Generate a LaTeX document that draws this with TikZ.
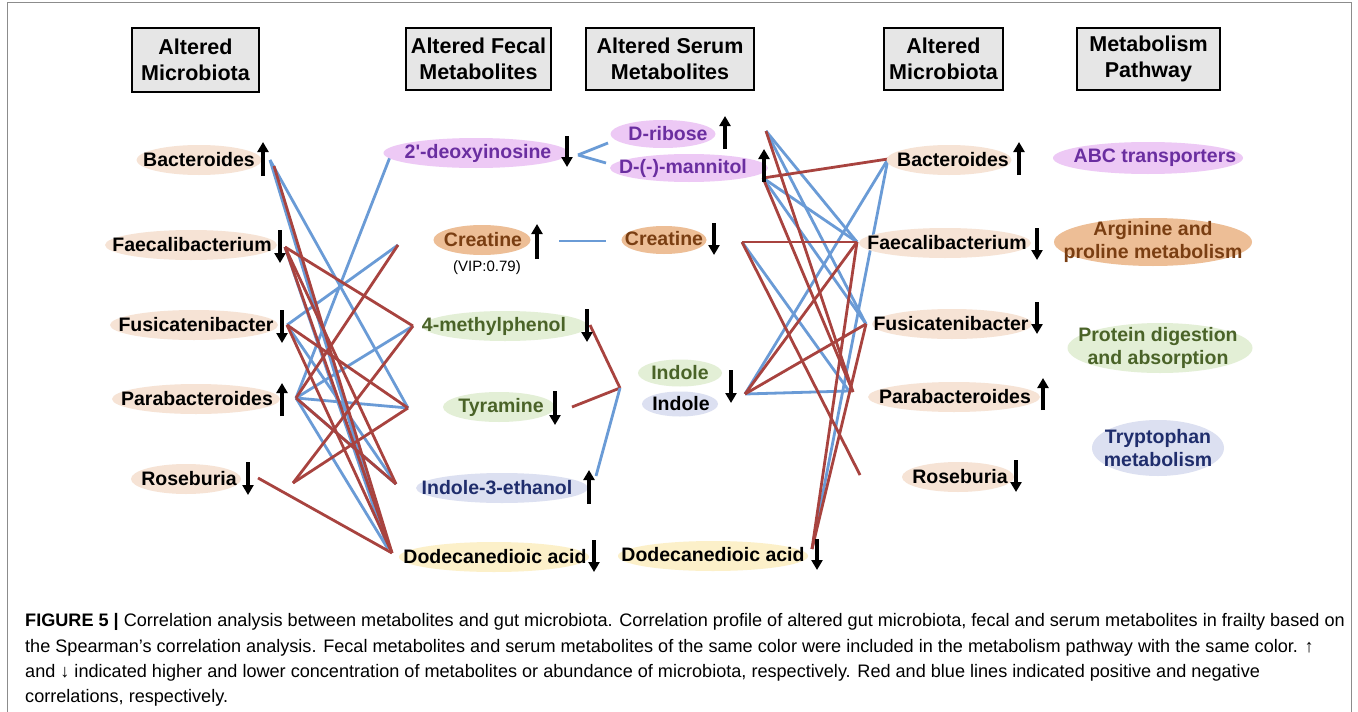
\documentclass[tikz,border=0pt]{standalone}
\usepackage{fontspec}
\setmainfont{Liberation Sans}
\newfontfamily\lsplain{Liberation Sans}
\usetikzlibrary{shapes.geometric,arrows.meta}
\definecolor{redl}{HTML}{A8433F}
\definecolor{bluel}{HTML}{6A9BD6}
\definecolor{peach}{HTML}{F6E3D5}
\definecolor{purf}{HTML}{EDC9F5}
\definecolor{purt}{HTML}{6A2EA0}
\definecolor{tanf}{HTML}{EDBE96}
\definecolor{brt}{HTML}{7A3E12}
\definecolor{grf}{HTML}{E3EFD6}
\definecolor{grt}{HTML}{4A6328}
\definecolor{lavf}{HTML}{DCE0F1}
\definecolor{navt}{HTML}{1F2D6C}
\definecolor{yelf}{HTML}{FCF0C9}
\definecolor{hdrf}{HTML}{E6E6E6}
\tikzset{
  x=1pt,y=-1pt,
  ell/.style={ellipse,inner sep=0pt,draw=none},
  lbl/.style={inner sep=0pt,font=\fontsize{19.5}{22}\selectfont\bfseries},
  hdr/.style={draw=black,line width=1.1pt,fill=hdrf,inner sep=0pt,align=center,font=\fontsize{21.5}{26}\selectfont\bfseries},
  rl/.style={draw=redl,line width=2.8pt},
  bl/.style={draw=bluel,line width=2.8pt},
  uarr/.style={line width=3.2pt,-{Triangle[length=10pt,width=11pt]}},
  captxt/.style={anchor=base west,inner sep=0pt,font=\fontsize{18.1}{20}\selectfont}
}
\begin{document}
\begin{tikzpicture}
\useasboundingbox (0,0) rectangle (1358,712);
\fill[white] (0,0) rectangle (1358,712);
\draw[black!45,line width=0.8pt] (7,714) -- (7,2) -- (1351,2) -- (1351,714);

% headers
\node[hdr,minimum width=127,minimum height=64] (h1) at (195.5,60) {Altered\\Microbiota};
\node[hdr,minimum width=145,minimum height=62] (h2) at (478.5,59) {Altered Fecal\\Metabolites};
\node[hdr,minimum width=168,minimum height=62] (h3) at (670,59) {Altered Serum\\Metabolites};
\node[hdr,minimum width=119,minimum height=62] (h4) at (943.5,59) {Altered\\Microbiota};
\node[hdr,minimum width=143,minimum height=62] (h5) at (1148.5,59) {Metabolism\\Pathway};

% ---------- lines left ----------
\coordinate (lB) at (270,160); \coordinate (lBr) at (274,166);
\coordinate (lF) at (285,247); \coordinate (lFu) at (287,325);
\coordinate (lP) at (296,398); \coordinate (lX) at (293,483);
\coordinate (lR) at (258,478);
\coordinate (fD2) at (390,157); \coordinate (fCr) at (398,245);
\coordinate (fM) at (413,326); \coordinate (fT) at (408,408);
\coordinate (fI3) at (396,484); \coordinate (fDd) at (392,553);
\coordinate (fDdb) at (388,549);

\draw[bl] (lB) -- (fDdb); \draw[bl] (lB) -- (fT); \draw[bl] (fD2) -- (lP);
\draw[bl] (fCr) -- (lFu); \draw[bl] (fM) -- (lP); \draw[bl] (lP) -- (fT);
\draw[bl] (lP) -- (fDdb); \draw[bl] (lP) -- (fI3); \draw[bl] (lF) -- (fDdb);
\draw[bl] (lFu) -- (fI3);
\draw[rl] (lBr) -- (fDd); \draw[rl] (lF) -- (fM); \draw[rl] (lF) -- (fI3);
\draw[rl] (lF) -- (fDd); \draw[rl] (lFu) -- (fT); \draw[rl] (lFu) -- (fDd);
\draw[rl] (lP) -- (fI3); \draw[rl] (fCr) -- (lP); \draw[rl] (lX) -- (fT);
\draw[rl] (lX) -- (fM); \draw[rl] (lR) -- (fDd);

% ---------- lines middle ----------
\coordinate (fD2r) at (578,155); \coordinate (sDr1) at (608,143); \coordinate (sDm1) at (606,163);
\coordinate (fCrr) at (559,241); \coordinate (sCr1) at (606,241);
\coordinate (fMr) at (590,325); \coordinate (fTr) at (572,407);
\coordinate (fI3r) at (596,476); \coordinate (mJ) at (620,388);
\draw[bl] (fD2r) -- (sDr1); \draw[bl] (fD2r) -- (sDm1);
\draw[bl] (fCrr) -- (sCr1);
\draw[rl] (fMr) -- (mJ); \draw[rl] (fTr) -- (mJ); \draw[bl] (fI3r) -- (mJ);

% ---------- lines right ----------
\coordinate (sDr) at (766,131); \coordinate (sDm) at (763,178);
\coordinate (sCs) at (742,242); \coordinate (sIn) at (745,394);
\coordinate (sDs) at (812,549);
\coordinate (rB) at (888,159); \coordinate (rF) at (857,242);
\coordinate (rFu) at (866,324); \coordinate (rP) at (849,391);
\coordinate (rPr) at (853,392); \coordinate (rR) at (860,475);
\draw[bl] (sDr) -- (rF); \draw[bl] (sDr) -- (rFu); \draw[bl] (sDm) -- (rF);
\draw[bl] (sDm) -- (rFu); \draw[bl] (sCs) -- (rP); \draw[bl] (sIn) -- (rB);
\draw[bl] (sIn) -- (rP); \draw[bl] (sDs) -- (rB);
\draw[rl] (sDm) -- (rB); \draw[rl] (sDr) -- (rPr); \draw[rl] (sDm) -- (rPr);
\draw[rl] (sCs) -- (rF); \draw[rl] (sCs) -- (rR); \draw[rl] (sIn) -- (rF);
\draw[rl] (sIn) -- (rFu); \draw[rl] (sDs) -- (rF); \draw[rl] (sDs) -- (rFu);

% ---------- left microbiota ----------
\node[ell,fill=peach,minimum width=125,minimum height=30] (eB) at (199,160) {};
\node[lbl] (tB) at (199,160) {Bacteroides};
\draw[uarr] (263,176) -- (263,142);
\node[ell,fill=peach,minimum width=172,minimum height=30] (eF) at (191,245) {};
\node[lbl] (tF) at (192,245) {Faecalibacterium};
\draw[uarr] (280,230) -- (280,263);
\node[ell,fill=peach,minimum width=168,minimum height=30] (eFu) at (194,325) {};
\node[lbl] (tFu) at (196,325) {Fusicatenibacter};
\draw[uarr] (282,310) -- (282,343);
\node[ell,fill=peach,minimum width=168,minimum height=30] (eP) at (196,399) {};
\node[lbl] (tP) at (197,399) {Parabacteroides};
\draw[uarr] (282,416) -- (282,383);
\node[ell,fill=peach,minimum width=110,minimum height=30] (eR) at (186,479) {};
\node[lbl] (tR) at (189,479) {Roseburia};
\draw[uarr] (248,462) -- (248,495);

% ---------- fecal ----------
\node[ell,fill=purf,minimum width=185,minimum height=30] (eD2) at (476,153) {};
\node[lbl,text=purt] (tD2) at (478,153) {\lsplain\bfseries 2'-deoxyinosine};
\draw[uarr] (567,136) -- (567,167);
\node[ell,fill=tanf,minimum width=97,minimum height=30] (eCr) at (482,240) {};
\node[lbl,text=brt] (tCr) at (483,240) {Creatine};
\draw[uarr] (537,259) -- (537,224);
\node[inner sep=0pt,font=\fontsize{15}{17}\selectfont] (vip) at (487,268) {(VIP:0.79)};
\node[ell,fill=grf,minimum width=165,minimum height=30] (eM) at (505,326) {};
\node[lbl,text=grt] (tM) at (494,326) {4-methylphenol};
\draw[uarr] (587,309) -- (587,342);
\node[ell,fill=grf,minimum width=112,minimum height=30] (eT) at (499,407) {};
\node[lbl,text=grt] (tT) at (501,407) {Tyramine};
\draw[uarr] (555,391) -- (555,425);
\node[ell,fill=lavf,minimum width=172,minimum height=30] (eI3) at (502,488) {};
\node[lbl,text=navt] (tI3) at (497,488) {Indole-3-ethanol};
\draw[uarr] (589,504) -- (589,470);
\node[ell,fill=yelf,minimum width=190,minimum height=30] (eDd) at (494,557) {};
\node[lbl] (tDd) at (495,557) {Dodecanedioic acid};
\draw[uarr] (594,540) -- (594,572);

% ---------- serum ----------
\node[ell,fill=purf,minimum width=105,minimum height=28] (eDr) at (663,134) {};
\node[lbl,text=purt] (tDr) at (668,134) {D-ribose};
\draw[uarr] (725,149) -- (725,116);
\node[ell,fill=purf,minimum width=158,minimum height=28] (eDm) at (689,168) {};
\node[lbl,text=purt] (tDm) at (683,168) {D-(-)-mannitol};
\draw[uarr] (764,182) -- (764,149);
\node[ell,fill=tanf,minimum width=85,minimum height=28] (eCs) at (664,240) {};
\node[lbl,text=brt] (tCs) at (664,239) {Creatine};
\draw[uarr] (714,223) -- (714,255);
\node[ell,fill=grf,minimum width=84,minimum height=27] (eIg) at (680,373) {};
\node[lbl,text=grt] (tIg) at (680,373) {Indole};
\node[ell,fill=lavf,minimum width=76,minimum height=25] (eIb) at (680,404) {};
\node[lbl] (tIb) at (681,404) {Indole};
\draw[uarr] (731,370) -- (731,403);
\node[ell,fill=yelf,minimum width=190,minimum height=30] (eDs) at (713,556) {};
\node[lbl] (tDs) at (713,555) {Dodecanedioic acid};
\draw[uarr] (817,539) -- (817,570);

% ---------- right microbiota ----------
\node[ell,fill=peach,minimum width=125,minimum height=30] (eRB) at (949,160) {};
\node[lbl] (tRB) at (953,160) {Bacteroides};
\draw[uarr] (1019,175) -- (1019,142);
\node[ell,fill=peach,minimum width=172,minimum height=30] (eRF) at (945,243) {};
\node[lbl] (tRF) at (947,243) {Faecalibacterium};
\draw[uarr] (1037,228) -- (1037,260);
\node[ell,fill=peach,minimum width=160,minimum height=30] (eRFu) at (952,324) {};
\node[lbl] (tRFu) at (951,324) {Fusicatenibacter};
\draw[uarr] (1037,302) -- (1037,334);
\node[ell,fill=peach,minimum width=172,minimum height=30] (eRP) at (954,397) {};
\node[lbl] (tRP) at (955,397) {Parabacteroides};
\draw[uarr] (1043,410) -- (1043,378);
\node[ell,fill=peach,minimum width=112,minimum height=30] (eRR) at (958,477) {};
\node[lbl] (tRR) at (960,477) {Roseburia};
\draw[uarr] (1016,460) -- (1016,492);

% ---------- pathways ----------
\node[ell,fill=purf,minimum width=190,minimum height=32] (pA) at (1148,158) {};
\node[lbl,text=purt] (tpA) at (1155,158) {ABC transporters};
\node[ell,fill=tanf,minimum width=198,minimum height=48] (pB) at (1153,242) {};
\node[lbl,text=brt,align=center,font=\fontsize{19.5}{23}\selectfont\bfseries] (tpB) at (1153,242) {Arginine and\\proline metabolism};
\node[ell,fill=grf,minimum width=185,minimum height=50] (pC) at (1160,348) {};
\node[lbl,text=grt,align=center,font=\fontsize{19.5}{23}\selectfont\bfseries] (tpC) at (1158,348) {Protein digestion\\and absorption};
\node[ell,fill=lavf,minimum width=132,minimum height=56] (pD) at (1158,448) {};
\node[lbl,text=navt,align=center,font=\fontsize{19.5}{23}\selectfont\bfseries] (tpD) at (1158,448) {Tryptophan\\metabolism};

% ---------- caption ----------
\node[captxt] (c1) at (25,626) {\textbf{FIGURE 5 |} Correlation analysis between metabolites and gut microbiota. Correlation profile of altered gut microbiota, fecal and serum metabolites in frailty based on};
\node[captxt] (c2) at (25,652) {the Spearman’s correlation analysis. Fecal metabolites and serum metabolites of the same color were included in the metabolism pathway with the same color. ↑};
\node[captxt] (c3) at (25,677) {and ↓ indicated higher and lower concentration of metabolites or abundance of microbiota, respectively. Red and blue lines indicated positive and negative};
\node[captxt] (c4) at (25,702) {correlations, respectively.};
\end{tikzpicture}
\end{document}
